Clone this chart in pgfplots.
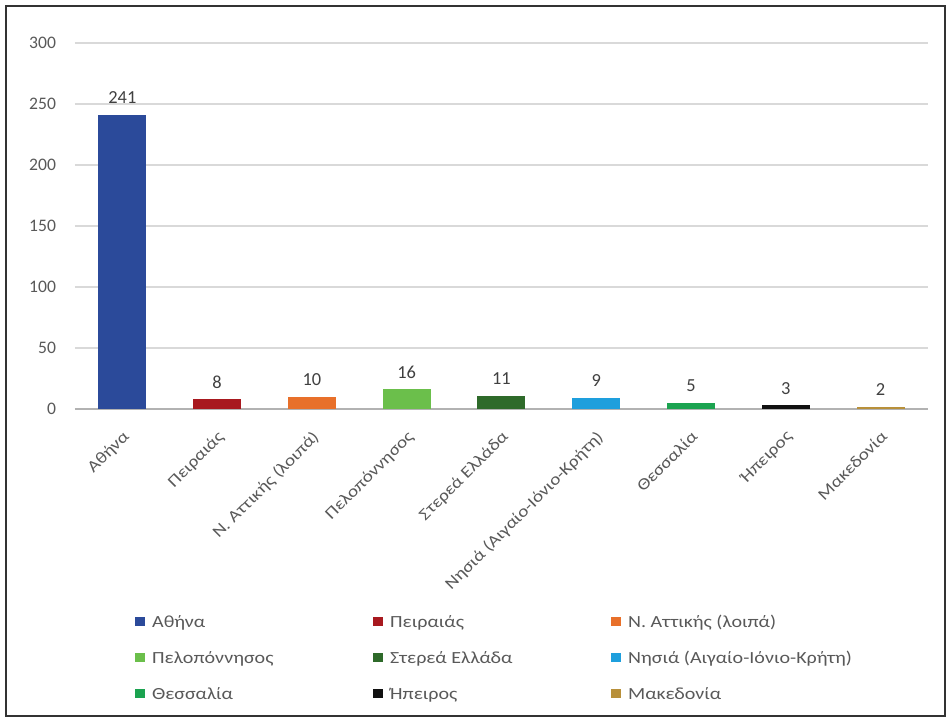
\documentclass[border=0pt]{standalone}
\usepackage{fontspec}
\setmainfont{Carlito}[FakeStretch=1.18]
\newfontfamily\numfont{Carlito}
\usepackage{pgfplots}
\pgfplotsset{compat=1.18}

\definecolor{cAthina}{HTML}{2B4A9A}
\definecolor{cPeiraias}{HTML}{A8191F}
\definecolor{cAttiki}{HTML}{E8702A}
\definecolor{cPelop}{HTML}{6BBF4B}
\definecolor{cSterea}{HTML}{2E6A2A}
\definecolor{cNisia}{HTML}{1E9FDD}
\definecolor{cThess}{HTML}{1BA350}
\definecolor{cIpeiros}{HTML}{111111}
\definecolor{cMaked}{HTML}{B8903A}
\definecolor{ticktext}{HTML}{595959}
\definecolor{labeltext}{HTML}{404040}
\definecolor{gridc}{HTML}{D9D9D9}

\newcommand{\legtext}[1]{\makebox[110pt][l]{\strut #1}}

\begin{document}
\begin{tikzpicture}[font=\fontsize{8.5}{10.2}\selectfont]
\useasboundingbox (-37.5pt,-156pt) rectangle (437.5pt,204.5pt);
\draw[line width=1pt, draw=black!80] (-34.5pt,-153.5pt) rectangle (435pt,201.5pt);
\begin{axis}[
  at={(0,0)}, anchor=south west,
  scale only axis,
  width=426.5pt, height=183pt,
  ybar, bar width=24pt, bar shift=0pt,
  xmin=-0.5, xmax=8.5,
  ymin=0, ymax=300,
  ytick={0,50,...,300},
  xtick={0,...,8},
  xticklabels={Αθήνα, Πειραιάς, Ν. Αττικής (λοιπά), Πελοπόννησος, Στερεά Ελλάδα, Νησιά (Αιγαίο-Ιόνιο-Κρήτη), Θεσσαλία, Ήπειρος, Μακεδονία},
  xticklabel style={rotate=45, anchor=north east, text=ticktext, xshift=-4pt, yshift=-3.5pt, font=\fontsize{8.2}{10}\selectfont},
  yticklabel style={text=ticktext, xshift=-6pt, font=\numfont\fontsize{8.8}{10}\selectfont},
  /pgf/number format/assume math mode=true,
  major tick length=0pt,
  axis line style={draw=none},
  ymajorgrids, grid style={gridc, line width=0.8pt},
  axis x line*=bottom,
  x axis line style={draw=black!30, line width=0.7pt},
  nodes near coords,
  nodes near coords style={text=labeltext, yshift=2pt, font=\numfont\fontsize{9.2}{10}\selectfont},
  legend columns=3,
  legend style={at={(axis description cs:0.0703,-0.546)}, anchor=north west,
    draw=none, fill=none, inner sep=0pt, column sep=0pt, row sep=5.25pt,
    cells={inner sep=0pt, text=ticktext}},
  legend image code/.code={\fill[#1, draw=none] (0pt,-2.3pt) rectangle (5pt,2.3pt);},
  clip=false,
]
\addplot[fill=cAthina, draw=none] coordinates {(0,241)};
\addlegendentry{\legtext{\,Αθήνα}}
\addplot[fill=cPeiraias, draw=none] coordinates {(1,8)};
\addlegendentry{\legtext{\,Πειραιάς}}
\addplot[fill=cAttiki, draw=none] coordinates {(2,10)};
\addlegendentry{\legtext{\,Ν. Αττικής (λοιπά)}}
\addplot[fill=cPelop, draw=none] coordinates {(3,16)};
\addlegendentry{\legtext{\,Πελοπόννησος}}
\addplot[fill=cSterea, draw=none] coordinates {(4,11)};
\addlegendentry{\legtext{\,Στερεά Ελλάδα}}
\addplot[fill=cNisia, draw=none] coordinates {(5,9)};
\addlegendentry{\legtext{\,Νησιά (Αιγαίο-Ιόνιο-Κρήτη)}}
\addplot[fill=cThess, draw=none] coordinates {(6,5)};
\addlegendentry{\legtext{\,Θεσσαλία}}
\addplot[fill=cIpeiros, draw=none] coordinates {(7,3)};
\addlegendentry{\legtext{\,Ήπειρος}}
\addplot[fill=cMaked, draw=none] coordinates {(8,2)};
\addlegendentry{\legtext{\,Μακεδονία}}
\end{axis}
\end{tikzpicture}
\end{document}
